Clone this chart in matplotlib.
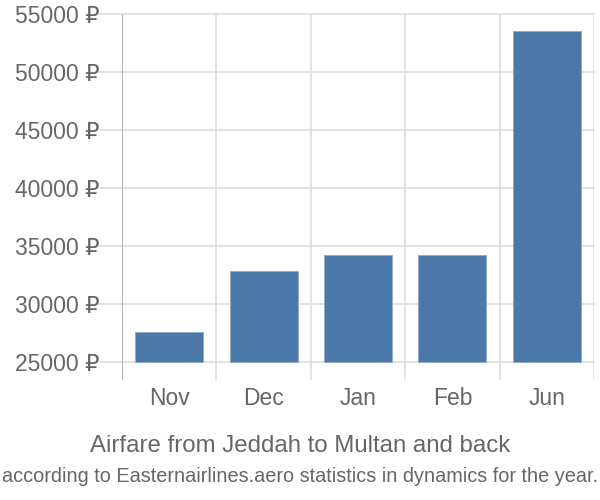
import matplotlib
matplotlib.use("Agg")
import matplotlib.pyplot as plt

months = ["Nov", "Dec", "Jan", "Feb", "Jun"]
prices = [27600, 32850, 34250, 34250, 53550]
yticks = [25000, 30000, 35000, 40000, 45000, 50000, 55000]
ytick_labels = ["%d \u20bd" % t for t in yticks]

fam = ["Liberation Sans", "DejaVu Sans"]
txt = "#666666"

fig = plt.figure(figsize=(6, 5), dpi=100)
ax = fig.add_axes([122 / 600, 1 - 380 / 500, 472 / 600, 366 / 500])

base = 25000
x = list(range(len(months)))
ax.bar(x, [p - base for p in prices], bottom=base, width=0.72,
       color="#4c78a8", edgecolor="#8fa9c8", linewidth=0.6, zorder=3)

ax.set_xlim(-0.5, len(months) - 0.5)
ax.set_ylim(base - 18 / 58 * 5000, 55000)

# horizontal grid, starting left of the axis like tick marks
for t in yticks:
    ax.plot([-0.73, len(months) - 0.5], [t, t], color="#dddddd", lw=1.2,
            clip_on=False, zorder=1)
# vertical grid between categories
for i in range(len(months) + 1):
    ax.axvline(i - 0.5, color="#dddddd", lw=1.2, zorder=1)
ax.axvline(-0.5, color="#aaaaaa", lw=1.2, zorder=2)

for s in ax.spines.values():
    s.set_visible(False)
ax.tick_params(length=0)
ax.set_xticks(x)
ax.set_xticklabels(months, family=fam, fontsize=16.5, color=txt)
ax.tick_params(axis="x", pad=5)
ax.set_yticks(yticks)
ax.set_yticklabels(ytick_labels, family=fam, fontsize=16.5, color=txt)
ax.tick_params(axis="y", pad=16)

fig.text(0.5, 1 - 446 / 500, "Airfare from Jeddah to Multan and back",
         ha="center", va="center", family=fam, fontsize=17.3, color=txt)
fig.text(0.5, 1 - 476 / 500,
         "according to Easternairlines.aero statistics in dynamics for the year.",
         ha="center", va="center", family=fam,
         fontsize=14.3, color=txt)

fig.savefig("out.png", dpi=100)
